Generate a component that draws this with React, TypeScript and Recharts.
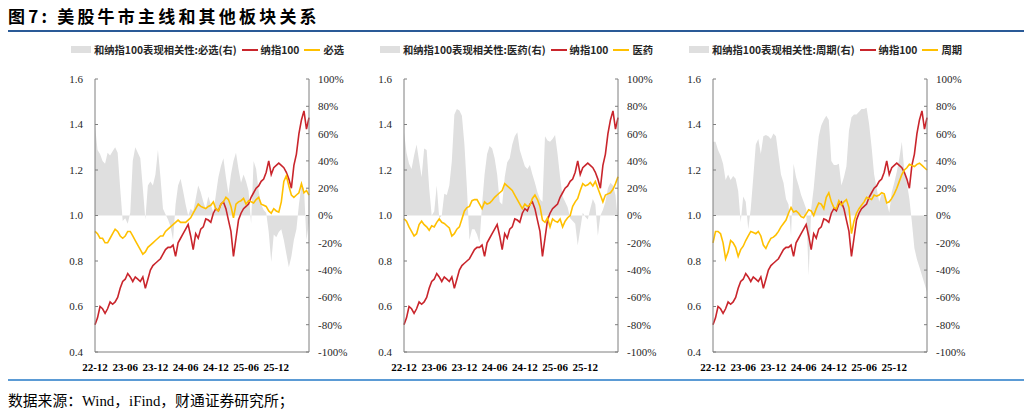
import { ComposedChart, Area, Line, XAxis, YAxis } from "recharts";

// x axis: half-month steps from 22-12, labels every six months
const TICK_LABELS = ["22-12", "23-06", "23-12", "24-06", "24-12", "25-06", "25-12"];
const MONTH_TICKS = [0, 6, 12, 18, 24, 30, 36];
const LEFT_TICKS = [0.4, 0.6, 0.8, 1.0, 1.2, 1.4, 1.6];
const RIGHT_TICKS = [-100, -80, -60, -40, -20, 0, 20, 40, 60, 80, 100];

// 纳指100 (normalised), same line in all three panels
const NDX = [
  0.52, 0.55, 0.6, 0.59, 0.57, 0.59, 0.62, 0.61, 0.62, 0.64,
  0.68, 0.71, 0.72, 0.745, 0.73, 0.71, 0.73, 0.72, 0.71, 0.73,
  0.68, 0.72, 0.76, 0.78, 0.79, 0.8, 0.81, 0.83, 0.85, 0.86,
  0.86, 0.87, 0.82, 0.88, 0.9, 0.92, 0.94, 0.96, 0.91, 0.85,
  0.92, 0.9, 0.94, 0.95, 0.985, 0.98, 0.97, 1.01, 1.03, 1.02,
  1.05, 1.06, 1.03, 0.98, 0.93, 0.82, 0.9, 0.98, 1.01, 1.03,
  1.04, 1.05, 1.08, 1.1, 1.12, 1.13, 1.15, 1.16, 1.19, 1.24,
  1.18, 1.21, 1.22, 1.23, 1.22, 1.21, 1.19, 1.16, 1.12, 1.22,
  1.27, 1.36, 1.42, 1.46, 1.38, 1.43,
];

// 必选
const STAPLES = [
  0.93, 0.92, 0.9, 0.9, 0.88, 0.88, 0.9, 0.92, 0.94, 0.93,
  0.91, 0.9, 0.91, 0.93, 0.93, 0.91, 0.89, 0.87, 0.85, 0.83,
  0.84, 0.86, 0.87, 0.88, 0.89, 0.9, 0.91, 0.91, 0.93, 0.94,
  0.95, 0.96, 0.97, 0.98, 0.97, 0.97, 0.97, 0.98, 0.99, 1.01,
  1.03, 1.05, 1.04, 1.035, 1.03, 1.04, 1.045, 1.06, 1.03, 1.02,
  1.05, 1.06, 1.08, 1.07, 1.04, 0.99, 1.05, 1.06, 1.065, 1.075,
  1.05, 1.065, 1.06, 1.055, 1.07, 1.08, 1.05, 1.045, 1.04, 1.02,
  1.01, 1.03, 1.02, 1.015, 1.06, 1.15, 1.175, 1.13, 1.09, 1.08,
  1.09, 1.1, 1.14, 1.1, 1.11, 1.09,
];
const STAPLES_CORR = [
  66, 48, 45, 40, 38, 46, 44, 47, 50, 46,
  20, -4, -2, -6, 2, 40, 50, 46, 42, 20,
  -3, 22, 25, 22, 30, 48, 28, 5, 1, -3,
  -8, -18, 8, 22, 27, 18, 8, 0, 5, 3,
  12, 22, 17, 10, 5, 14, 8, 2, 15, 28,
  36, 42, 28, 16, 30, 40, 46, 34, 24, 30,
  25, 18, -6, 40, 34, 18, 8, 4, 2, -12,
  -34, -14, -16, -12, -10, -18, -28, -38, -30, -18,
  -10, 8, 22, 20, -18, -5,
];

// 医药
const HEALTH = [
  0.985, 0.975, 0.95, 0.93, 0.91, 0.92, 0.96, 0.975, 0.96, 0.95,
  0.935, 0.955, 0.95, 0.97, 0.985, 0.97, 0.965, 0.955, 0.945, 0.91,
  0.92, 0.94, 0.95, 0.985, 1.02, 1.035, 1.04, 1.065, 1.07, 1.07,
  1.05, 1.03, 1.06, 1.05, 1.055, 1.066, 1.08, 1.09, 1.1, 1.11,
  1.14, 1.13, 1.12, 1.11, 1.09, 1.07, 1.05, 1.03, 1.05, 1.04,
  1.045, 1.075, 1.09, 1.07, 1.04, 0.98, 0.97, 0.99, 0.95, 0.985,
  0.975, 0.97, 0.985, 0.95, 0.975, 0.99, 1.0, 1.04, 1.06, 1.075,
  1.11, 1.14, 1.13, 1.135, 1.145, 1.13, 1.15, 1.12, 1.09, 1.06,
  1.09, 1.095, 1.1, 1.115, 1.14, 1.17,
];
const HEALTH_CORR = [
  61, 46, 38, 34, 44, 52, 40, 28, 49, 48,
  20, 0, 3, 22, -2, 0, 16, 15, 22, 40,
  74, 78, 77, 73, 52, 20, -18, -10, -10, -14,
  -20, 8, 30, 45, 51, 49, 42, 30, 10, 8,
  28, 39, 42, 52, 58, 61, 48, 42, 36, 34,
  37, 30, 24, 17, 12, 10, 58, 55, 54, 56,
  59, 45, 28, 14, 10, 6, -2, -4, -6, -22,
  -10, 2, -1, -3, 5, 12, 8, -15, 0, 4,
  10, 20, 24, 22, 15, -5,
];

// 周期
const CYCLICAL = [
  0.88, 0.93, 0.93, 0.92, 0.88, 0.81, 0.84, 0.89, 0.88, 0.86,
  0.82, 0.85, 0.865, 0.89, 0.91, 0.93, 0.925, 0.92, 0.93, 0.91,
  0.87, 0.855, 0.88, 0.9, 0.905, 0.915, 0.93, 0.95, 0.965, 0.98,
  1.01, 1.035, 1.015, 1.02, 1.01, 0.995, 0.99, 1.007, 1.025, 1.02,
  1.0, 1.03, 1.055, 1.05, 1.03, 1.08, 1.1, 1.06, 1.035, 1.03,
  1.065, 1.045, 1.06, 1.07, 1.035, 0.92, 0.975, 1.01, 1.03, 1.045,
  1.06, 1.08, 1.075, 1.07, 1.09, 1.085, 1.09, 1.1, 1.095, 1.055,
  1.06, 1.075, 1.095, 1.12, 1.15, 1.18, 1.2, 1.21, 1.225, 1.22,
  1.215, 1.225, 1.23, 1.22, 1.21, 1.2,
];
const CYCLICAL_CORR = [
  54, 54, 48, 44, 38, 26, 30, 26, 29, 27,
  18, -5, 14, 10, -10, 5, 28, 52, 56, 45,
  58, 59, 58, 56, 60, 58, 44, 30, 24, 12,
  8, -15, 38, 28, 22, 15, 10, 5, -44, 5,
  20, 40, 58, 66, 70, 73, 70, 40, 37, 37,
  38, 22, 28, 36, 62, 72, 74, 74, 76, 78,
  78, 79, 67, 50, 30, 20, 10, 16, 15, 10,
  2, 17, 24, 32, 42, 54, 32, 24, 12, -5,
  -24, -32, -38, -44, -50, -56,
];

const RED = "#C9252C";
const YELLOW = "#FFC000";
const GRAY = "#DFDFDF";
const AXIS = "#7F7F7F";
const SERIF = '"Liberation Serif", "Times New Roman", serif';
const CJK = '"Noto Sans CJK SC", "Noto Sans", sans-serif';

function buildRows(sector: number[], corr: number[]) {
  return NDX.map((v, i) => ({ m: i / 2, ndx: v, sector: sector[i], corr: corr[i] }));
}

function Legend({ name, left }: { name: string; left: number }) {
  const item = { display: "flex", alignItems: "center", marginRight: 5 };
  return (
    <div
      style={{
        position: "absolute",
        left: left - 200,
        top: 42,
        width: 400,
        display: "flex",
        justifyContent: "center",
        fontFamily: CJK,
        fontSize: 10.3,
        fontWeight: 700,
        color: "#262626",
        whiteSpace: "nowrap",
      }}
    >
      <span style={item}>
        <span style={{ width: 20, height: 7, background: GRAY, marginRight: 3 }} />
        和纳指100表现相关性:{name}(右)
      </span>
      <span style={item}>
        <span style={{ width: 16, height: 2, background: RED, marginRight: 3 }} />
        纳指100
      </span>
      <span style={item}>
        <span style={{ width: 16, height: 2, background: YELLOW, marginRight: 3 }} />
        {name}
      </span>
    </div>
  );
}

function Panel({ left, name, sector, corr }: { left: number; name: string; sector: number[]; corr: number[] }) {
  const rows = buildRows(sector, corr);
  const tickStyle = { fontFamily: SERIF, fontSize: 11, fill: "#262626" };
  return (
    <>
      <Legend name={name} left={left + 150} />
      <div style={{ position: "absolute", left, top: 60 }}>
        <ComposedChart width={294} height={312} data={rows} margin={{ top: 19, right: 0, bottom: 0, left: 0 }}>
          <XAxis
            dataKey="m"
            type="number"
            domain={[0, 42.5]}
            ticks={MONTH_TICKS}
            interval={0}
            tickFormatter={(v: number) => TICK_LABELS[MONTH_TICKS.indexOf(v)]}
            tickLine={false}
            tickMargin={5}
            height={20}
            axisLine={{ stroke: AXIS }}
            tick={{ ...tickStyle, fontWeight: 700, fill: "#000" }}
          />
          <YAxis
            yAxisId="left"
            domain={[0.4, 1.6]}
            ticks={LEFT_TICKS}
            tickFormatter={(v: number) => v.toFixed(1)}
            width={35}
            axisLine={{ stroke: AXIS }}
            tickLine={{ stroke: AXIS }}
            tickSize={-3}
            tickMargin={15}
            tick={tickStyle}
            interval={0}
          />
          <YAxis
            yAxisId="right"
            orientation="right"
            domain={[-100, 100]}
            ticks={RIGHT_TICKS}
            tickFormatter={(v: number) => `${v}%`}
            width={45}
            axisLine={{ stroke: AXIS }}
            tickLine={{ stroke: AXIS }}
            tickSize={-3}
            tickMargin={12}
            tick={tickStyle}
            interval={0}
          />
          <Area
            yAxisId="right"
            type="linear"
            dataKey="corr"
            baseValue={0}
            stroke="none"
            fill={GRAY}
            fillOpacity={1}
            isAnimationActive={false}
          />
          <Line yAxisId="left" type="linear" dataKey="ndx" stroke={RED} strokeWidth={1.6} dot={false} isAnimationActive={false} />
          <Line yAxisId="left" type="linear" dataKey="sector" stroke={YELLOW} strokeWidth={1.6} dot={false} isAnimationActive={false} />
        </ComposedChart>
      </div>
    </>
  );
}

export default function App() {
  return (
    <div style={{ position: "fixed", left: 0, top: 0, width: 1032, height: 411, background: "#fff", overflow: "hidden" }}>
      <div
        style={{
          position: "absolute",
          left: 8,
          top: 3,
          fontFamily: CJK,
          fontSize: 17,
          fontWeight: 700,
          letterSpacing: 3.2,
          color: "#000",
          whiteSpace: "nowrap",
        }}
      >
        图7: 美股牛市主线和其他板块关系
      </div>
      <div style={{ position: "absolute", left: 8, top: 30, width: 1016, height: 2, background: "#2A5A97" }} />
      <Panel left={60} name="必选" sector={STAPLES} corr={STAPLES_CORR} />
      <Panel left={369} name="医药" sector={HEALTH} corr={HEALTH_CORR} />
      <Panel left={678} name="周期" sector={CYCLICAL} corr={CYCLICAL_CORR} />
      <div style={{ position: "absolute", left: 8, top: 379, width: 1016, height: 2, background: "#5B9BD5" }} />
      <div
        style={{
          position: "absolute",
          left: 8,
          top: 389,
          fontFamily: `${SERIF}, "Noto Sans CJK SC"`,
          fontSize: 14.8,
          color: "#000",
          whiteSpace: "nowrap",
        }}
      >
        数据来源：Wind，iFind，财通证券研究所；
      </div>
    </div>
  );
}
